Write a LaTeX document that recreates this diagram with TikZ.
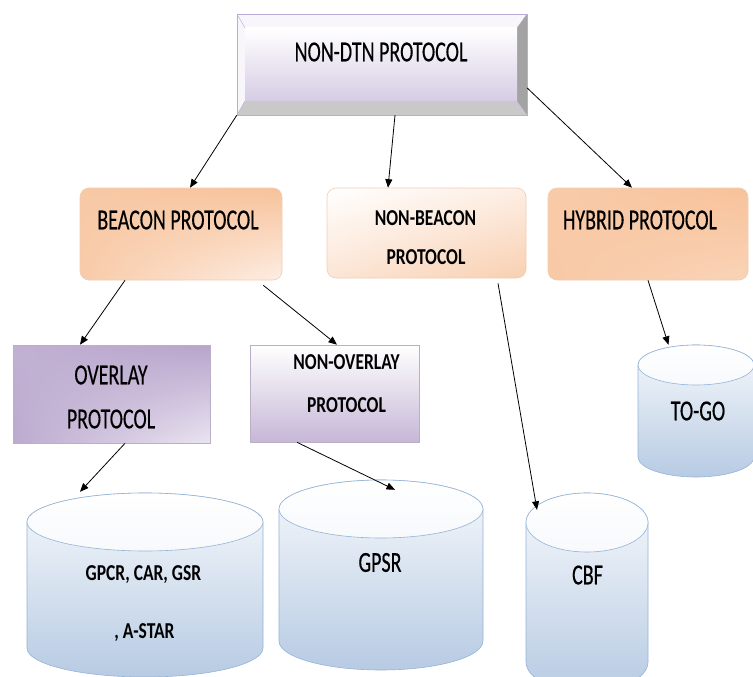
\documentclass[tikz,border=0pt]{standalone}
\usepackage{fontspec}
\setmainfont{Carlito}
\newfontfamily\heavyfont{Carlito}[FakeBold=0.5]
\usetikzlibrary{arrows.meta,shadings}

\definecolor{lavline}{HTML}{B9ACD8}
\definecolor{lavface}{HTML}{D6CCE5}
\definecolor{bevelL}{HTML}{F8F6FB}
\definecolor{bevelB}{HTML}{C9C9C9}
\definecolor{bevelR}{HTML}{A3A3A3}
\definecolor{peachD}{HTML}{F7C29A}
\definecolor{peachL}{HTML}{FDEEE4}
\definecolor{peachline}{HTML}{EFCDB6}
\definecolor{purD}{HTML}{B7A4CB}
\definecolor{purL}{HTML}{EAE4F1}
\definecolor{purline}{HTML}{B9AFC6}
\definecolor{drumT}{HTML}{F7F9FC}
\definecolor{drumB}{HTML}{B7CBE3}
\definecolor{drumline}{HTML}{95B3D7}

% tall, narrow lettering
\newcommand\talltxt[1]{\scalebox{1}[1.45]{\heavyfont #1}}
\newcommand\tallbold[1]{\scalebox{1}[1.3]{\bfseries #1}}

% cylinder: name, left x, right x, lid centre y, base centre y, half height of the ellipses
\newcommand\drum[6]{%
  \pgfmathsetmacro\drumrx{(#3-#2)/2}%
  \pgfmathsetmacro\drumcx{(#3+#2)/2}%
  \shade[top color=drumT, bottom color=drumB, draw=drumline, line width=0.6pt]
    (#2,#4) -- (#2,#5) arc[start angle=180, end angle=0, x radius=\drumrx, y radius=#6]
    -- (#3,#4) arc[start angle=0, end angle=-180, x radius=\drumrx, y radius=#6] -- cycle;
  \shade[top color=white, bottom color=drumT, draw=drumline, line width=0.6pt]
    (\drumcx,#4) ellipse[x radius=\drumrx, y radius=#6];
  \node[inner sep=0, minimum width={(#3-#2)*1pt}, minimum height={(#5-#4+2*#6)*1pt}]
    (#1) at (\drumcx,{(#4+#5)/2}) {};%
}

\tikzset{
  lbl/.style={inner sep=0, font=\fontsize{20}{24}\selectfont},
  lblb/.style={inner sep=0, font=\fontsize{17.5}{21}\selectfont},
  card/.style={rounded corners=9pt, draw=peachline, line width=0.6pt},
  slab/.style={draw=purline, line width=0.6pt},
  link/.style={-{Triangle[length=8.5pt,width=7pt]}, line width=0.8pt, black},
}

\begin{document}
\begin{tikzpicture}[x=1pt, y=-1pt]
\useasboundingbox (0,0) rectangle (753,677);

% ---- bevelled title block ----
\fill[bevelL] (237,14) -- (527,14) -- (517,28) -- (245,28) -- (245,101) -- (237,115) -- cycle;
\fill[bevelB] (237,115) -- (245,101) -- (517,101) -- (527,115) -- cycle;
\fill[bevelR] (527,14) -- (527,115) -- (517,101) -- (517,28) -- cycle;
\shade[top color=white, bottom color=lavface] (245,28) rectangle (517,101);
\draw[lavline, line width=0.8pt] (237,14) rectangle (527,115);
\draw[lavline, line width=0.4pt] (237,14) -- (245,28) (527,14) -- (517,28)
  (237,115) -- (245,101) (527,115) -- (517,101);
\node[inner sep=0, minimum width=290pt, minimum height=101pt] (top) at (382,64.5) {};
\node[lbl] (toptxt) at (381,52) {\talltxt{NON-DTN PROTOCOL}};

% ---- second row ----
\node[card, minimum width=202pt, minimum height=92pt,
      upper left=peachD!85!peachL, upper right=peachD, lower left=peachD!80!peachL, lower right=peachL]
      (beacon) at (181,234) {};
\node[lbl] (beacontxt) at (178,220) {\talltxt{BEACON PROTOCOL}};

\node[card, minimum width=199pt, minimum height=90pt,
      upper left=white, upper right=peachL, lower left=peachL!80!peachD, lower right=peachD!70!peachL]
      (nonbeacon) at (426.5,233) {};
\node[lblb] (nb1) at (425.5,218) {\tallbold{NON-BEACON}};
\node[lblb] (nb2) at (426,257) {\tallbold{PROTOCOL}};

\node[card, minimum width=200pt, minimum height=92pt,
      upper left=peachD!80!peachL, upper right=peachD, lower left=peachD!85!peachL, lower right=peachD!60!peachL]
      (hybrid) at (648,234) {};
\node[lbl] (hybridtxt) at (640,220) {\talltxt{HYBRID PROTOCOL}};

% ---- third row ----
\node[slab, minimum width=197pt, minimum height=98pt,
      upper left=purD!80!purL, upper right=purD, lower left=purD!90!purL, lower right=purL]
      (overlay) at (111.5,394) {};
\node[lbl] (ov1) at (111,375) {\talltxt{OVERLAY}};
\node[lbl] (ov2) at (111,419) {\talltxt{PROTOCOL}};

\node[slab, minimum width=169pt, minimum height=97pt, top color=white, bottom color=purD!70!purL]
      (nonoverlay) at (334.5,393.5) {};
\node[lblb] (no1) at (346.5,362) {\tallbold{NON-OVERLAY}};
\node[lblb] (no2) at (346.5,405) {\tallbold{PROTOCOL}};

% ---- data stores ----
\drum{store1}{27}{263}{522}{648}{29}
\node[lblb] (s1a) at (143.5,574.5) {\tallbold{GPCR, CAR, GSR}};
\node[lblb] (s1b) at (144.5,633) {\tallbold{, A-STAR}};

\drum{gpsr}{279}{483}{509}{641}{29}
\node[lbl] (gpsrtxt) at (380,562.5) {\talltxt{GPSR}};

\drum{cbf}{526}{648}{522.5}{662}{29.5}
\node[lbl] (cbftxt) at (587.5,575) {\talltxt{CBF}};

\drum{togo}{638}{754}{365}{457}{20}
\node[lbl] (togotxt) at (698,411) {\talltxt{TO-GO}};

% ---- connectors ----
\draw[link] (top.south west) -- ([xshift=9pt]beacon.north);
\draw[link] ([xshift=13pt]top.south) -- ([xshift=-38.5pt]nonbeacon.north);
\draw[link] ([yshift=-23.5pt]top.east) -- ([xshift=-16pt]hybrid.north);
\draw[link] ([xshift=-56pt]beacon.south) -- ([xshift=-31.5pt]overlay.north);
\draw[link] ([xshift=-19pt,yshift=-5pt]beacon.south east) -- ([xshift=2.5pt]nonoverlay.north);
\draw[link] ([xshift=71.5pt,yshift=-5pt]nonbeacon.south) -- ([xshift=-50pt,yshift=-17pt]cbf.north);
\draw[link] (hybrid.south) -- ([xshift=-27.5pt]togo.north);
\draw[link] ([xshift=13.5pt]overlay.south) -- ([xshift=-65pt,yshift=1pt]store1.north);
\draw[link] ([xshift=-37.5pt]nonoverlay.south) -- ([xshift=14pt,yshift=-10pt]gpsr.north);
\end{tikzpicture}
\end{document}
